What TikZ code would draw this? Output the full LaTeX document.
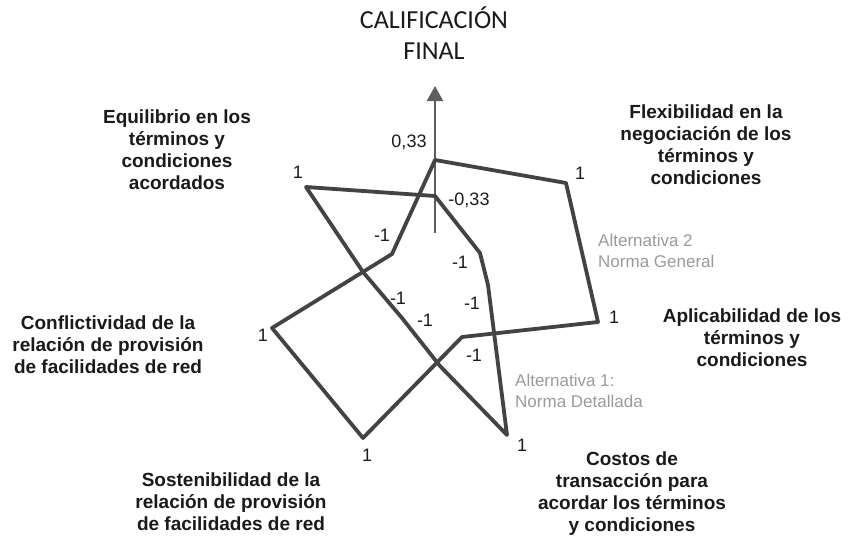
\documentclass[tikz,border=0pt]{standalone}
\usepackage{fontspec}
\setmainfont{Liberation Sans}
\newfontfamily\titlefont{Carlito}
\usetikzlibrary{arrows.meta}
\definecolor{linegray}{HTML}{434343}
\definecolor{axisgray}{HTML}{5E5E5E}
\definecolor{altgray}{HTML}{9A9A9A}
\definecolor{txt}{HTML}{1A1A1A}
\begin{document}
\begin{tikzpicture}[x=1pt,y=-1pt,
  crit/.style={font=\bfseries\fontsize{19}{22}\selectfont, align=center, text=txt, inner sep=0pt},
  val/.style={font=\fontsize{18}{20}\selectfont, text=txt, inner sep=0pt},
  alt/.style={font=\fontsize{17}{21.5}\selectfont, text=altgray, align=left, inner sep=0pt, anchor=west},
  poly/.style={draw=linegray, line width=3.8pt, line join=round},
  axisline/.style={draw=axisgray, line width=2pt, -{Triangle[length=15pt,width=16pt]}}
]
\useasboundingbox (0,0) rectangle (848,538);

% title
\node[font=\titlefont\fontsize{26}{31}\selectfont, align=center, text=txt, inner sep=0pt] (title) at (434,33.5) {CALIFICACIÓN\\FINAL};

% axis
\coordinate (axbot) at (435,233);
\coordinate (axtop) at (435,86);
\draw[axisline] (axbot) -- (axtop);

% Alternativa 2: Norma General
\coordinate (gT) at (435,160);
\coordinate (gF) at (566,183);
\coordinate (gA) at (598,322);
\coordinate (gC) at (462,337);
\coordinate (gS) at (363,438);
\coordinate (gCf) at (272,328);
\coordinate (gE) at (392,254);
\draw[poly] (gT) -- (gF) -- (gA) -- (gC) -- (gS) -- (gCf) -- (gE) -- cycle;

% Alternativa 1: Norma Detallada
\coordinate (dT) at (435,196);
\coordinate (dF) at (480,253);
\coordinate (dA) at (488,285);
\coordinate (dC) at (507,435);
\coordinate (dS) at (440,366);
\coordinate (dCf) at (402,318);
\coordinate (dK) at (363,272);
\coordinate (dE) at (306,187);
\draw[poly] (dT) -- (dF) -- (dA) -- (dC) -- (dS) -- (dCf) -- (dK) -- (dE) -- cycle;

% axis values
\node[val] (v033) at (409,142) {0,33};
\node[val] (vm033) at (469,200) {-0,33};
\node[val] (vE1) at (298,172) {1};
\node[val] (vF1) at (580,173) {1};
\node[val] (vA1) at (614,317) {1};
\node[val] (vC1) at (522,445) {1};
\node[val] (vS1) at (367,455) {1};
\node[val] (vCf1) at (263,335) {1};
\node[val] (vEm) at (382,235) {-1};
\node[val] (vFm) at (460,262) {-1};
\node[val] (vAm) at (472,303) {-1};
\node[val] (vCm) at (474,355) {-1};
\node[val] (vCfm) at (398,298) {-1};
\node[val] (vSm) at (425,320) {-1};

% alternatives
\node[alt] (alt2) at (598,251) {Alternativa 2\\Norma General};
\node[alt] (alt1) at (515,391) {Alternativa 1:\\Norma Detallada};

% criteria
\node[crit] (equil) at (177,150) {Equilibrio en los\\términos y\\condiciones\\acordados};
\node[crit] (flex) at (706,145) {Flexibilidad en la\\negociación de los\\términos y\\condiciones};
\node[crit] (aplic) at (752,338) {Aplicabilidad de los\\términos y\\condiciones};
\node[crit] (costos) at (632,494) {Costos de\\transacción para\\acordar los términos\\y condiciones};
\node[crit] (sost) at (231,501.5) {Sostenibilidad de la\\relación de provisión\\de facilidades de red};
\node[crit] (confl) at (108,344.5) {Conflictividad de la\\relación de provisión\\de facilidades de red};
\end{tikzpicture}
\end{document}
